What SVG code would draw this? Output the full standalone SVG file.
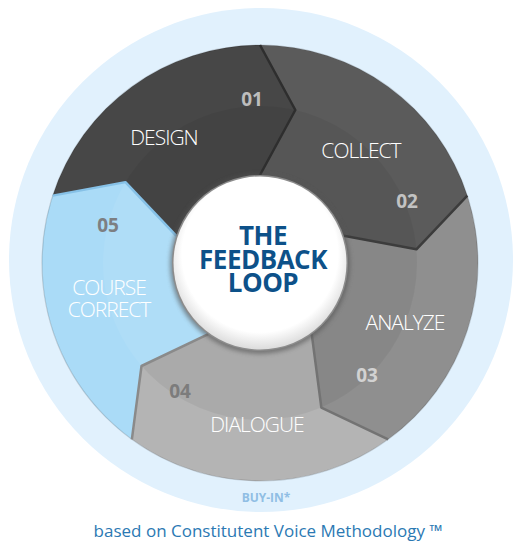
<svg xmlns="http://www.w3.org/2000/svg" width="527" height="547" viewBox="0 0 527 547">
<defs>
<radialGradient id="hub" cx="50%" cy="45%" r="55%">
<stop offset="0" stop-color="#ffffff"/>
<stop offset="0.82" stop-color="#ffffff"/>
<stop offset="1" stop-color="#dcdcdc"/>
</radialGradient>
<filter id="soft" x="-20%" y="-20%" width="140%" height="140%">
<feGaussianBlur stdDeviation="2"/>
</filter>
</defs>
<style>
.lbl{font-family:"Open Sans","Liberation Sans",sans-serif;font-size:21px;font-weight:300;fill:#ffffff;text-anchor:middle;letter-spacing:-1px}
.num{font-family:"Open Sans","Liberation Sans",sans-serif;font-size:19px;font-weight:700;text-anchor:middle}
.title{font-family:"Open Sans","Liberation Sans",sans-serif;font-size:26px;font-weight:700;fill:#0d5189;text-anchor:middle;letter-spacing:-0.5px}
.edge{fill:none;stroke-width:2.5;stroke-linejoin:round}
</style>
<circle cx="261" cy="260" r="252" fill="#e1f1fd"/>
<g id="segments">
<g id="design">
<path d="M52.67 195.63 A218 218 0 0 1 260 45 L295.32 110.02 L260 175 L260 263 L176.31 235.81 L125.42 182.14 Z" fill="#474747"/>
</g>
<g id="collect">
<path d="M260 45 A218 218 0 0 1 467.33 195.63 L416.40 249.32 L343.69 235.81 L260 263 L260 175 L295.32 110.02 Z" fill="#5b5b5b"/>
</g>
<g id="analyze">
<path d="M467.33 195.63 A218 218 0 0 1 388.14 439.37 L321.35 407.52 L311.73 334.19 L260 263 L343.69 235.81 L416.40 249.32 Z" fill="#8f8f8f"/>
</g>
<g id="dialogue">
<path d="M388.14 439.37 A218 218 0 0 1 131.86 439.37 L141.51 366 L208.27 334.19 L260 263 L311.73 334.19 L321.35 407.52 Z" fill="#b4b4b4"/>
</g>
<circle cx="260" cy="263" r="157" fill="#000" opacity="0.05"/>
<g id="course-correct">
<path d="M131.86 439.37 A218 218 0 0 1 52.67 195.63 L125.42 182.14 L176.31 235.81 L260 263 L208.27 334.19 L141.51 366 Z" fill="#aadbf7"/>
<path d="M141.51 366 L208.27 334.19 L260 263 L176.31 235.81 L125.42 182.14 A157 157 0 0 0 141.51 366 Z" fill="#ffffff" opacity="0.06"/>
</g>
</g>
<circle cx="260" cy="263" r="218" fill="none" stroke="#000" stroke-opacity="0.15" stroke-width="1.2"/>
<g id="connectors">
<polyline class="edge" points="260,45 295.32,110.02 260,175" stroke="#2e2e2e"/>
<polyline class="edge" points="467.33,195.63 416.40,249.32 343.69,235.81" stroke="#3c3c3c"/>
<polyline class="edge" points="388.14,439.37 321.35,407.52 311.73,334.19" stroke="#737373"/>
<polyline class="edge" points="131.86,439.37 141.51,366 208.27,334.19" stroke="#8a8a8a"/>
<polyline class="edge" points="52.67,195.63 125.42,182.14 176.31,235.81" stroke="#86c1e7"/>
</g>
<g id="hub-node">
<circle cx="260" cy="264" r="90" fill="#555" opacity="0.6" filter="url(#soft)"/>
<circle cx="260" cy="263" r="88" fill="#8c8c8c"/>
<circle cx="260" cy="263" r="86.5" fill="url(#hub)"/>
<text class="title" x="263" y="245">THE</text>
<text class="title" x="263" y="269">FEEDBACK</text>
<text class="title" x="263" y="292">LOOP</text>
</g>
<g id="labels">
<text class="num" x="252" y="106" fill="#bdbdbd">01</text>
<text class="lbl" x="164" y="145">DESIGN</text>
<text class="num" x="407" y="208" fill="#c2c2c2">02</text>
<text class="lbl" x="361" y="158">COLLECT</text>
<text class="num" x="367" y="382" fill="#d2d2d2">03</text>
<text class="lbl" x="405" y="330">ANALYZE</text>
<text class="num" x="180" y="398" fill="#7c7c7c">04</text>
<text class="lbl" x="257" y="432">DIALOGUE</text>
<text class="num" x="108" y="232" fill="#7d7f82">05</text>
<text class="lbl" x="109" y="295">COURSE</text>
<text class="lbl" x="109" y="317">CORRECT</text>
</g>
<text x="266" y="502" font-family="'Open Sans','Liberation Sans',sans-serif" font-size="12" font-weight="700" fill="#90bee4" text-anchor="middle">BUY-IN*</text>
<text x="268" y="537" font-family="'Open Sans','Liberation Sans',sans-serif" font-size="17" fill="#2b79b3" text-anchor="middle">based on Constitutent Voice Methodology ™</text>
</svg>
